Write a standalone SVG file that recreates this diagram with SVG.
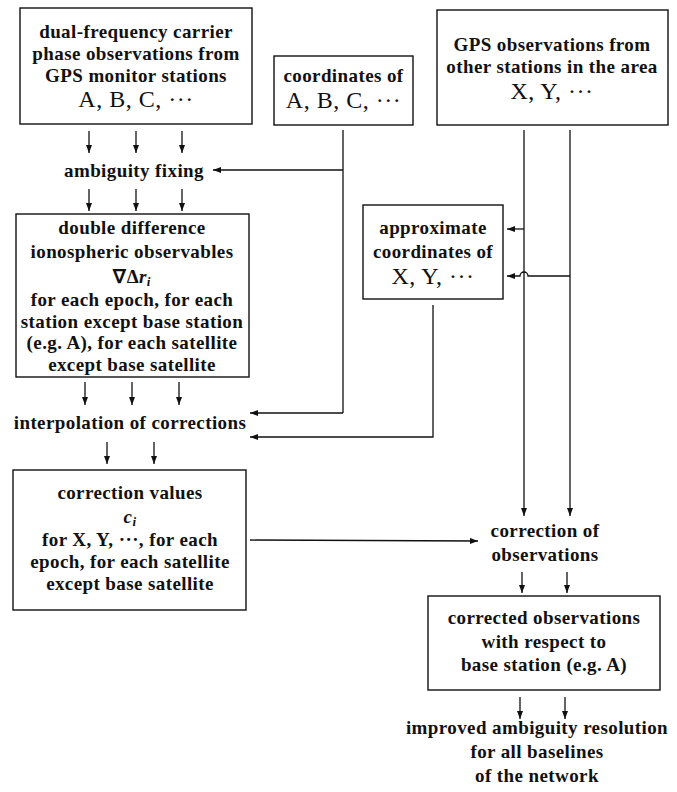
<svg xmlns="http://www.w3.org/2000/svg" width="677" height="792" viewBox="0 0 677 792">
<defs>
<marker id="ah" markerWidth="8" markerHeight="6" refX="8" refY="3" orient="auto" markerUnits="userSpaceOnUse">
<path d="M0,0 L8,3 L0,6 z" fill="#111"/>
</marker>
<style>
.box{fill:#fff;stroke:#111;stroke-width:1.4}
.t{font-family:"Liberation Serif",serif;font-size:19px;letter-spacing:0.4px;font-weight:bold;fill:#111;text-anchor:middle}
.L{font-family:"Liberation Serif",serif;font-size:24px;letter-spacing:0.5px;fill:#111;text-anchor:middle}
.c{fill:none;stroke:#111;stroke-width:1.3}
.a{fill:none;stroke:#111;stroke-width:1.3;marker-end:url(#ah)}
</style>
</defs>
<rect width="677" height="792" fill="#fff"/>
<g id="connectors">
<line class="a" x1="89" y1="131" x2="89" y2="153"/>
<line class="a" x1="136" y1="131" x2="136" y2="153"/>
<line class="a" x1="182" y1="131" x2="182" y2="153"/>
<line class="a" x1="89" y1="189" x2="89" y2="211"/>
<line class="a" x1="136" y1="189" x2="136" y2="211"/>
<line class="a" x1="182" y1="189" x2="182" y2="211"/>
<path class="c" d="M343,130 L343,413"/>
<line class="a" x1="343" y1="170" x2="213" y2="170"/>
<line class="a" x1="343" y1="413" x2="250" y2="413"/>
<path class="a" d="M433,305 L433,437 L250,437"/>
<line class="a" x1="85" y1="382" x2="85" y2="405"/>
<line class="a" x1="132" y1="382" x2="132" y2="405"/>
<line class="a" x1="179" y1="382" x2="179" y2="405"/>
<line class="a" x1="107" y1="442" x2="107" y2="464"/>
<line class="a" x1="154" y1="442" x2="154" y2="464"/>
<line class="a" x1="524" y1="130" x2="524" y2="516"/>
<line class="a" x1="570" y1="130" x2="570" y2="516"/>
<line class="a" x1="524" y1="229" x2="507" y2="229"/>
<path class="a" d="M570,276 L528,276 A4,4 0 0 0 520,276 L507,276"/>
<line class="a" x1="250" y1="540" x2="478" y2="541"/>
<line class="a" x1="522" y1="572" x2="522" y2="593"/>
<line class="a" x1="567" y1="572" x2="567" y2="593"/>
<line class="a" x1="520" y1="697" x2="520" y2="719"/>
<line class="a" x1="565" y1="697" x2="565" y2="719"/>
</g>
<g id="n1">
<rect class="box" x="20" y="8" width="232" height="116"/>
<text class="t" x="136" y="38">dual-frequency carrier</text>
<text class="t" x="136" y="60">phase observations from</text>
<text class="t" x="136" y="82">GPS monitor stations</text>
<text class="L" x="136" y="107">A, B, C, ···</text>
</g>
<g id="n2">
<rect class="box" x="274" y="56" width="139" height="69"/>
<text class="t" x="343.5" y="82">coordinates of</text>
<text class="L" x="343.5" y="108">A, B, C, ···</text>
</g>
<g id="n3">
<rect class="box" x="437" y="10" width="231" height="115"/>
<text class="t" x="552" y="51">GPS observations from</text>
<text class="t" x="552" y="73">other stations in the area</text>
<text class="L" x="552" y="99">X, Y, ···</text>
</g>
<g id="n4">
<text class="t" x="134" y="177">ambiguity fixing</text>
</g>
<g id="n5">
<rect class="box" x="16" y="214" width="233" height="163"/>
<text class="t" x="132" y="234">double difference</text>
<text class="t" x="132" y="258">ionospheric observables</text>
<text class="t" x="132" y="283">∇Δ<tspan font-style="italic">r</tspan><tspan font-style="italic" font-size="13" dy="3">i</tspan></text>
<text class="t" x="132" y="306">for each epoch, for each</text>
<text class="t" x="132" y="328">station except base station</text>
<text class="t" x="132" y="349">(e.g. A), for each satellite</text>
<text class="t" x="132" y="371">except base satellite</text>
</g>
<g id="n6">
<rect class="box" x="363" y="205" width="140" height="94"/>
<text class="t" x="433" y="234">approximate</text>
<text class="t" x="433" y="258">coordinates of</text>
<text class="L" x="433" y="284">X, Y, ···</text>
</g>
<g id="n7">
<text class="t" x="130" y="429">interpolation of corrections</text>
</g>
<g id="n8">
<rect class="box" x="13" y="470" width="233" height="140"/>
<text class="t" x="130" y="499">correction values</text>
<text class="t" x="130" y="523"><tspan font-style="italic">c</tspan><tspan font-style="italic" font-size="13" dy="3">i</tspan></text>
<text class="t" x="130" y="546">for X, Y, ···, for each</text>
<text class="t" x="130" y="568">epoch, for each satellite</text>
<text class="t" x="130" y="590">except base satellite</text>
</g>
<g id="n9">
<text class="t" x="545" y="537">correction of</text>
<text class="t" x="545" y="561">observations</text>
</g>
<g id="n10">
<rect class="box" x="428" y="596" width="232" height="94"/>
<text class="t" x="544" y="624">corrected observations</text>
<text class="t" x="544" y="648">with respect to</text>
<text class="t" x="544" y="671">base station (e.g. A)</text>
</g>
<g id="n11">
<text class="t" x="537" y="734">improved ambiguity resolution</text>
<text class="t" x="537" y="758">for all baselines</text>
<text class="t" x="537" y="782">of the network</text>
</g>
</svg>
